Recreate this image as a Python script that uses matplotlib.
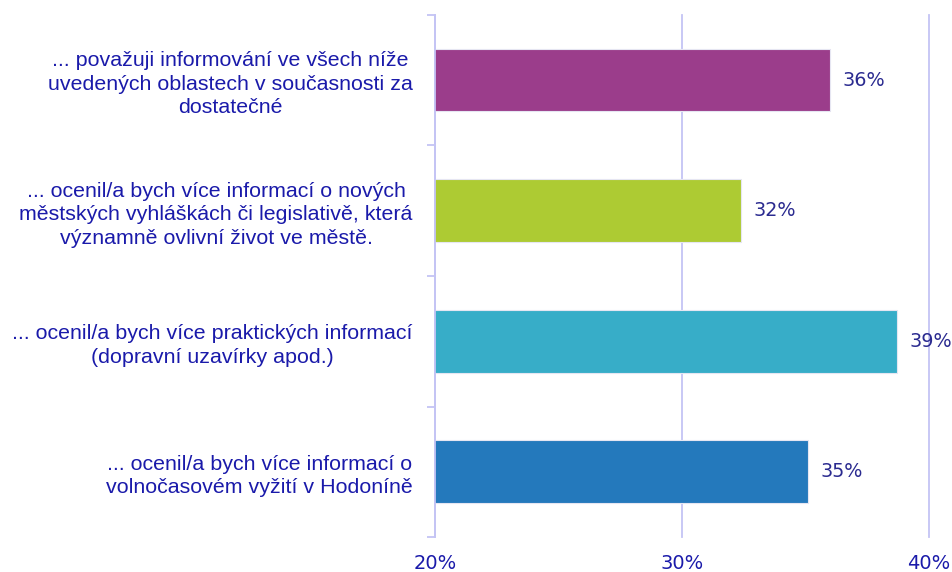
import numpy as np
from matplotlib import pyplot as plt

categories = [
    "... považuji informování ve všech níže\nuvedených oblastech v současnosti za\ndostatečné",
    "... ocenil/a bych více informací o nových\nměstských vyhláškách či legislativě, která\nvýznamně ovlivní život ve městě.",
    "... ocenil/a bych více praktických informací\n(dopravní uzavírky apod.)",
    "... ocenil/a bych více informací o\nvolnočasovém vyžití v Hodoníně",
]
values = [36.0, 32.4, 38.7, 35.1]
colors = ["#9B3D8B", "#ADCB33", "#37ADC8", "#2479BC"]
xticks = [20, 30, 40]

line_col = "#C4C4F4"
text_col = "#1A1AAA"
val_col = "#2B2B90"

fig = plt.figure(figsize=(9.52, 5.72), dpi=100)
ax = fig.add_axes([0.457, 0.061, 0.519, 0.913])

y = np.arange(len(categories))
ax.barh(y, values, height=0.48, color=colors, edgecolor="#E6E6F2", linewidth=0.8, zorder=3)
ax.set_ylim(len(categories) - 0.5, -0.5)
ax.set_xlim(20, 40)

for yi, v in zip(y, values):
    ax.text(v + 0.5, yi, f"{v:.0f}%", va="center", ha="left",
            fontsize=13.8, color=val_col, zorder=4)

# gridlines
ax.set_xticks(xticks)
ax.set_xticklabels([f"{t}%" for t in xticks], fontsize=14, color=text_col)
ax.tick_params(axis="x", length=0, pad=12)
ax.grid(axis="x", color=line_col, linewidth=1.3, zorder=0)
for gl in ax.get_xgridlines():
    gl.set_clip_on(False)

# category labels, ticks sit between categories
ax.set_yticks(y)
ax.set_yticklabels(categories, fontsize=15.4, color=text_col, family="Liberation Sans",
                   linespacing=1.3)
for lab in ax.get_yticklabels():
    lab.set_multialignment("center")
ax.set_yticks(np.arange(-0.5, len(categories)), minor=True)
ax.tick_params(axis="y", which="major", length=0, pad=16)
ax.tick_params(axis="y", which="minor", length=6, color=line_col, width=1.3)

for s in ["top", "right", "bottom"]:
    ax.spines[s].set_visible(False)
ax.spines["left"].set_color(line_col)
ax.spines["left"].set_linewidth(1.3)
ax.spines["left"].set_zorder(5)

fig.savefig("out.png", dpi=100)
